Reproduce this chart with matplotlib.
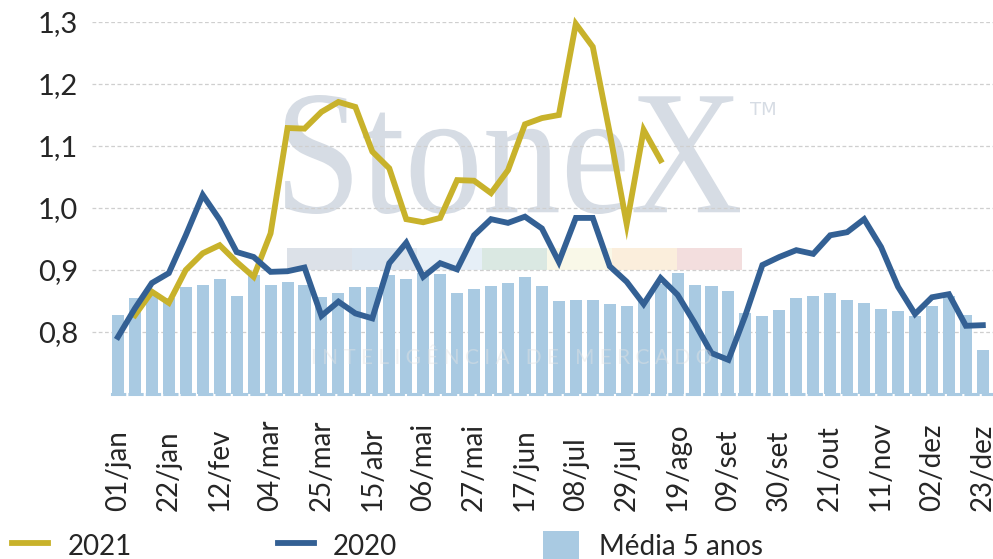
import numpy as np
import matplotlib
matplotlib.use('Agg')
import matplotlib.pyplot as plt
from matplotlib.textpath import TextPath
from matplotlib.patches import PathPatch, Rectangle
from matplotlib.font_manager import FontProperties
from matplotlib.transforms import Affine2D

# Wochenwerte (52 Wochen)
semanas = ['01/jan', '22/jan', '12/fev', '04/mar', '25/mar', '15/abr', '06/mai', '27/mai',
           '17/jun', '08/jul', '29/jul', '19/ago', '09/set', '30/set', '21/out', '11/nov',
           '02/dez', '23/dez']

media_5_anos = [0.827, 0.855, 0.865, 0.855, 0.873, 0.876, 0.885, 0.858, 0.892, 0.876,
                0.881, 0.876, 0.857, 0.863, 0.873, 0.873, 0.892, 0.885, 0.895, 0.893,
                0.863, 0.869, 0.874, 0.879, 0.889, 0.874, 0.850, 0.852, 0.852, 0.845,
                0.842, 0.853, 0.878, 0.895, 0.876, 0.874, 0.866, 0.831, 0.826, 0.835,
                0.855, 0.858, 0.863, 0.852, 0.847, 0.837, 0.834, 0.826, 0.842, 0.858,
                0.827, 0.771]

serie_2020 = [0.792, 0.838, 0.879, 0.895, 0.956, 1.021, 0.981, 0.929, 0.921, 0.897,
              0.898, 0.904, 0.826, 0.849, 0.830, 0.822, 0.911, 0.944, 0.889, 0.911,
              0.901, 0.956, 0.982, 0.976, 0.986, 0.967, 0.913, 0.984, 0.984, 0.906,
              0.881, 0.845, 0.887, 0.860, 0.815, 0.766, 0.755, 0.827, 0.908, 0.921,
              0.932, 0.926, 0.956, 0.961, 0.982, 0.937, 0.873, 0.829, 0.856, 0.861,
              0.810, 0.811]

serie_2021 = [np.nan, 0.827, 0.865, 0.847, 0.900, 0.927, 0.940, 0.913, 0.889, 0.959,
              1.129, 1.128, 1.155, 1.171, 1.163, 1.091, 1.064, 0.982, 0.977, 0.984,
              1.045, 1.044, 1.024, 1.061, 1.135, 1.145, 1.150, 1.297, 1.260, 1.121,
              0.974, 1.126, 1.077]

y_ticks = [0.8, 0.9, 1.0, 1.1, 1.2, 1.3]

COR_2021 = '#c8b22b'
COR_2020 = '#336094'
COR_MEDIA = '#a9cae2'
COR_TEXTO = '#262626'

plt.rcParams['font.family'] = ['Lato', 'DejaVu Sans']

fig = plt.figure(figsize=(9.93, 5.59), dpi=100)
W, H = 993, 559
ax = fig.add_axes([92 / W, 1 - 394 / H, (993 - 92) / W, (394 - 22) / H])

x = np.arange(len(media_5_anos))

# Wasserzeichen (Logo)
tp = TextPath((0, 0), 'StoneX', size=100, prop=FontProperties(family='Liberation Serif'))
ext = tp.get_extents()
tr = (Affine2D().translate(-ext.x0, -ext.y0)
      .scale(455 / ext.width / W, 119 / ext.height / H)
      .translate(285 / W, 1 - 214 / H) + fig.transFigure)
ax.add_patch(PathPatch(tp, transform=tr, facecolor='#d6dce4', edgecolor='none',
                       zorder=0.1, clip_on=False))
fig.text(750 / W, 1 - 110 / H, 'TM', fontsize=13, color='#d6dce4',
         family='DejaVu Sans', va='center', ha='left')
strip_cols = ['#dce1e8', '#dae4ee', '#e6eff7', '#dae8e2', '#f9f8e8', '#fbeedc', '#f3dede']
for i, c in enumerate(strip_cols):
    ax.add_patch(Rectangle(((287 + 65 * i) / W, 1 - 270 / H), 65 / W, 22 / H,
                           transform=fig.transFigure, facecolor=c, edgecolor='none',
                           zorder=0.1, clip_on=False))

# Balken und Linien
ax.bar(x, media_5_anos, width=0.71, color=COR_MEDIA, zorder=2, label='Média 5 anos')
ax.plot(np.arange(len(serie_2021)), serie_2021, color=COR_2021, lw=4.2,
        solid_joinstyle='miter', zorder=3, clip_on=False, label='2021')
ax.plot(x, serie_2020, color=COR_2020, lw=4.2, solid_joinstyle='miter',
        zorder=3, clip_on=False, label='2020')

fig.text(512 / W, 1 - 358 / H, 'I N T E L I G Ê N C I A   D E   M E R C A D O',
         fontsize=15, color='#e4e4e4', alpha=0.45, ha='center', va='center', zorder=5)

ax.set_xlim(-1.53, 51.6)
ax.set_ylim(0.7, 1.3)

ax.set_yticks(y_ticks)
ax.set_yticklabels([f'{v:.1f}'.replace('.', ',') for v in y_ticks])
ax.set_xticks(np.arange(0, 52, 3))
ax.set_xticklabels(semanas, rotation=90, va='bottom', ha='center')

ax.tick_params(axis='y', length=0, pad=10, labelsize=21, labelcolor=COR_TEXTO)
ax.tick_params(axis='x', length=0, pad=84, labelsize=20, labelcolor=COR_TEXTO)

ax.grid(axis='y', color='#cfcfcf', lw=0.9, linestyle=(0, (3, 2)), zorder=1)
ax.set_axisbelow(True)

for s in ['top', 'right', 'left']:
    ax.spines[s].set_visible(False)
ax.spines['bottom'].set_color(COR_MEDIA)
ax.spines['bottom'].set_linewidth(2.2)
ax.spines['bottom'].set_linestyle((0, (4, 1.7)))
ax.spines['bottom'].set_bounds(-0.35, 51.6)

# Legende
handles, labels = ax.get_legend_handles_labels()
order = [labels.index('2021'), labels.index('2020'), labels.index('Média 5 anos')]
fig.legend([handles[i] for i in order], [labels[i] for i in order],
           loc='center left', bbox_to_anchor=(12 / W, 1 - 546 / H), ncol=3,
           frameon=False, fontsize=20, handlelength=1.3, handleheight=1.3,
           handletextpad=0.7, columnspacing=5.25, borderpad=0, borderaxespad=0,
           labelcolor=COR_TEXTO)

plt.savefig('out.png', dpi=100)
